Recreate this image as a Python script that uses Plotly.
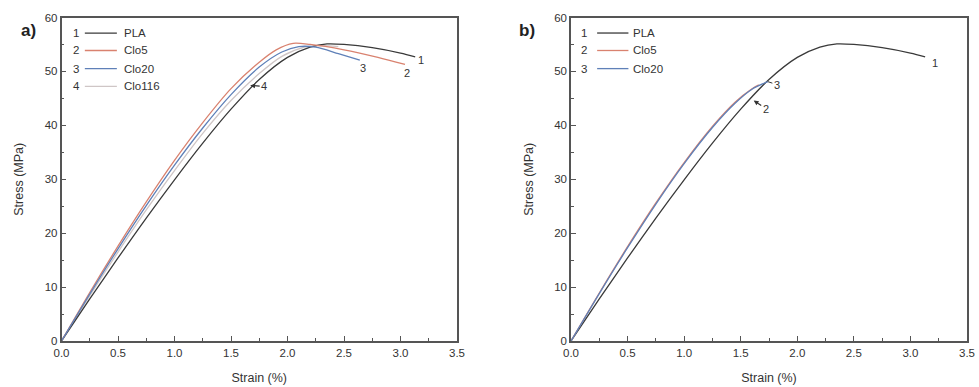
import plotly.graph_objects as go

# ---------------- data ----------------
# Panel a)
a_pla_x = [0, 0.25, 0.5, 0.75, 1.0, 1.25, 1.5, 1.75, 2.0, 2.2, 2.35, 2.5, 2.75, 3.0, 3.13]
a_pla_y = [0, 7.8, 15.4, 22.8, 29.9, 36.7, 43.0, 48.5, 52.6, 54.5, 55.1, 55.0, 54.4, 53.4, 52.7]
a_clo5_x = [0, 0.25, 0.5, 0.75, 1.0, 1.25, 1.5, 1.75, 1.9, 2.05, 2.2, 2.5, 2.8, 3.04]
a_clo5_y = [0, 9.0, 17.6, 25.8, 33.5, 40.5, 46.8, 51.7, 54.0, 55.2, 55.0, 54.0, 52.6, 51.3]
a_clo20_x = [0, 0.25, 0.5, 0.75, 1.0, 1.25, 1.5, 1.75, 1.95, 2.1, 2.25, 2.45, 2.64]
a_clo20_y = [0, 8.7, 17.1, 25.1, 32.6, 39.5, 45.7, 50.8, 53.6, 54.6, 54.5, 53.3, 52.1]
a_clo116_x = [0, 0.25, 0.5, 0.75, 1.0, 1.25, 1.5, 1.75, 1.95, 2.15, 2.3, 2.45]
a_clo116_y = [0, 8.4, 16.5, 24.3, 31.6, 38.5, 44.6, 49.6, 52.8, 54.5, 54.8, 54.6]

# Panel b)
b_pla_x = a_pla_x
b_pla_y = a_pla_y
b_clo5_x = [0, 0.25, 0.5, 0.75, 1.0, 1.25, 1.45, 1.6, 1.66]
b_clo5_y = [0, 8.9, 17.5, 25.6, 33.1, 39.8, 44.3, 46.8, 47.5]
b_clo20_x = [0, 0.25, 0.5, 0.75, 1.0, 1.25, 1.45, 1.6, 1.74]
b_clo20_y = [0, 8.8, 17.3, 25.4, 32.9, 39.6, 44.1, 46.7, 48.1]

x_ticks = [0, 0.5, 1.0, 1.5, 2.0, 2.5, 3.0, 3.5]
x_tick_labels = ["0.0", "0.5", "1.0", "1.5", "2.0", "2.5", "3.0", "3.5"]
y_ticks = [0, 10, 20, 30, 40, 50, 60]
y_tick_labels = ["0", "10", "20", "30", "40", "50", "60"]

a_names = ["PLA", "Clo5", "Clo20", "Clo116"]
b_names = ["PLA", "Clo5", "Clo20"]

# ---------------- styles ----------------
C_PLA = "#3a3a3a"
C_CLO5 = "#d9826f"
C_CLO20 = "#5f80b8"
C_CLO116 = "#cfc6c6"
AXC = "#555555"
TXT = "#333333"
FONT = "Liberation Sans, Arial, sans-serif"

fig = go.Figure()

def add(x, y, color, xa, ya, w=1.3):
    fig.add_trace(go.Scatter(x=x, y=y, mode="lines", line=dict(color=color, width=w, shape="spline", smoothing=0.8),
                             xaxis=xa, yaxis=ya, showlegend=False, hoverinfo="skip"))

add(a_clo116_x, a_clo116_y, C_CLO116, "x", "y")
add(a_pla_x, a_pla_y, C_PLA, "x", "y")
add(a_clo5_x, a_clo5_y, C_CLO5, "x", "y")
add(a_clo20_x, a_clo20_y, C_CLO20, "x", "y")

add(b_pla_x, b_pla_y, C_PLA, "x2", "y2")
add(b_clo5_x, b_clo5_y, C_CLO5, "x2", "y2")
add(b_clo20_x, b_clo20_y, C_CLO20, "x2", "y2")

W, H = 979, 387
dom_a = [61.5 / W, 457 / W]
dom_b = [571 / W, 967 / W]
dom_y = [1 - 341 / H, 1 - 17.5 / H]

def xaxis(dom, anchor):
    return dict(domain=dom, anchor=anchor, range=[0, 3.5], tickvals=x_ticks, ticktext=x_tick_labels,
                ticks="inside", ticklen=5, tickwidth=1, tickcolor=AXC, automargin=False,
                minor=dict(ticks="inside", ticklen=3, dtick=0.25, tickcolor=AXC, tickwidth=1),
                showline=True, linecolor=AXC, linewidth=1.5, mirror=True, showgrid=False, zeroline=False,
                tickfont=dict(size=11.5, color=TXT, family=FONT),
                title=dict(text="Strain (%)", font=dict(size=12.5, color=TXT, family=FONT), standoff=16))

def yaxis(anchor):
    return dict(domain=dom_y, anchor=anchor, range=[0, 60], tickvals=y_ticks, ticktext=y_tick_labels,
                ticks="inside", ticklen=5, tickwidth=1, tickcolor=AXC, automargin=False,
                minor=dict(ticks="inside", ticklen=3, dtick=5, tickcolor=AXC, tickwidth=1),
                showline=True, linecolor=AXC, linewidth=1.5, mirror=True, showgrid=False, zeroline=False,
                tickfont=dict(size=11.5, color=TXT, family=FONT),
                title=dict(text="Stress (MPa)", font=dict(size=12.5, color=TXT, family=FONT), standoff=18))

fig.update_layout(
    width=W, height=H, margin=dict(l=0, r=0, t=0, b=0),
    paper_bgcolor="white", plot_bgcolor="white",
    xaxis=xaxis(dom_a, "y"), yaxis=yaxis("x"),
    xaxis2=xaxis(dom_b, "y2"), yaxis2=yaxis("x2"),
)

annotations = []
shapes = []

# manual legends
leg_rows = [0.952, 0.898, 0.842, 0.787]
def legend(xref, yref, names, colors, num_x, l0, l1, tx):
    for i, (n, c) in enumerate(zip(names, colors)):
        yy = leg_rows[i]
        annotations.append(dict(xref=xref, yref=yref, x=num_x, y=yy, text=str(i + 1), showarrow=False,
                                xanchor="center", yanchor="middle", font=dict(size=11.5, color=TXT, family=FONT)))
        shapes.append(dict(type="line", xref=xref, yref=yref, x0=l0, x1=l1, y0=yy, y1=yy,
                           line=dict(color=c, width=1.3)))
        annotations.append(dict(xref=xref, yref=yref, x=tx, y=yy, text=n, showarrow=False,
                                xanchor="left", yanchor="middle", font=dict(size=11.5, color=TXT, family=FONT)))

legend("x domain", "y domain", a_names, [C_PLA, C_CLO5, C_CLO20, C_CLO116], 0.037, 0.059, 0.14, 0.152)
legend("x2 domain", "y2 domain", b_names, [C_PLA, C_CLO5, C_CLO20], 0.032, 0.066, 0.145, 0.152)

lab_font = dict(size=11, color=TXT, family=FONT)
# curve end labels panel a
annotations += [
    dict(xref="x", yref="y", x=3.18, y=52.2, text="1", showarrow=False, font=lab_font),
    dict(xref="x", yref="y", x=3.06, y=49.8, text="2", showarrow=False, font=lab_font),
    dict(xref="x", yref="y", x=2.67, y=50.6, text="3", showarrow=False, font=lab_font),
    dict(xref="x", yref="y", x=1.67, y=47.4, text="4", showarrow=True, ax=14, ay=1,
         arrowhead=2, arrowsize=0.8, arrowwidth=1.2, arrowcolor=TXT, font=lab_font),
]
# panel b
annotations += [
    dict(xref="x2", yref="y2", x=3.22, y=51.6, text="1", showarrow=False, font=lab_font),
    dict(xref="x2", yref="y2", x=1.74, y=48.1, text="3", showarrow=True, ax=9, ay=3,
         arrowhead=0, arrowwidth=1, arrowcolor=TXT, font=lab_font),
    dict(xref="x2", yref="y2", x=1.615, y=44.6, text="2", showarrow=True, ax=12, ay=8,
         arrowhead=2, arrowsize=0.8, arrowwidth=1.2, arrowcolor=TXT, font=lab_font),
]
# panel labels
annotations += [
    dict(xref="paper", yref="paper", x=19 / W, y=1 - 19 / H, text="<b>a)</b>", showarrow=False,
         font=dict(size=17, color="#222", family=FONT)),
    dict(xref="paper", yref="paper", x=527 / W, y=1 - 19 / H, text="<b>b)</b>", showarrow=False,
         font=dict(size=17, color="#222", family=FONT)),
]

fig.update_layout(annotations=annotations, shapes=shapes)
fig.write_html("out.html", config={"displayModeBar": False},
               post_script="document.body.style.margin='0';document.body.style.overflow='hidden';")
